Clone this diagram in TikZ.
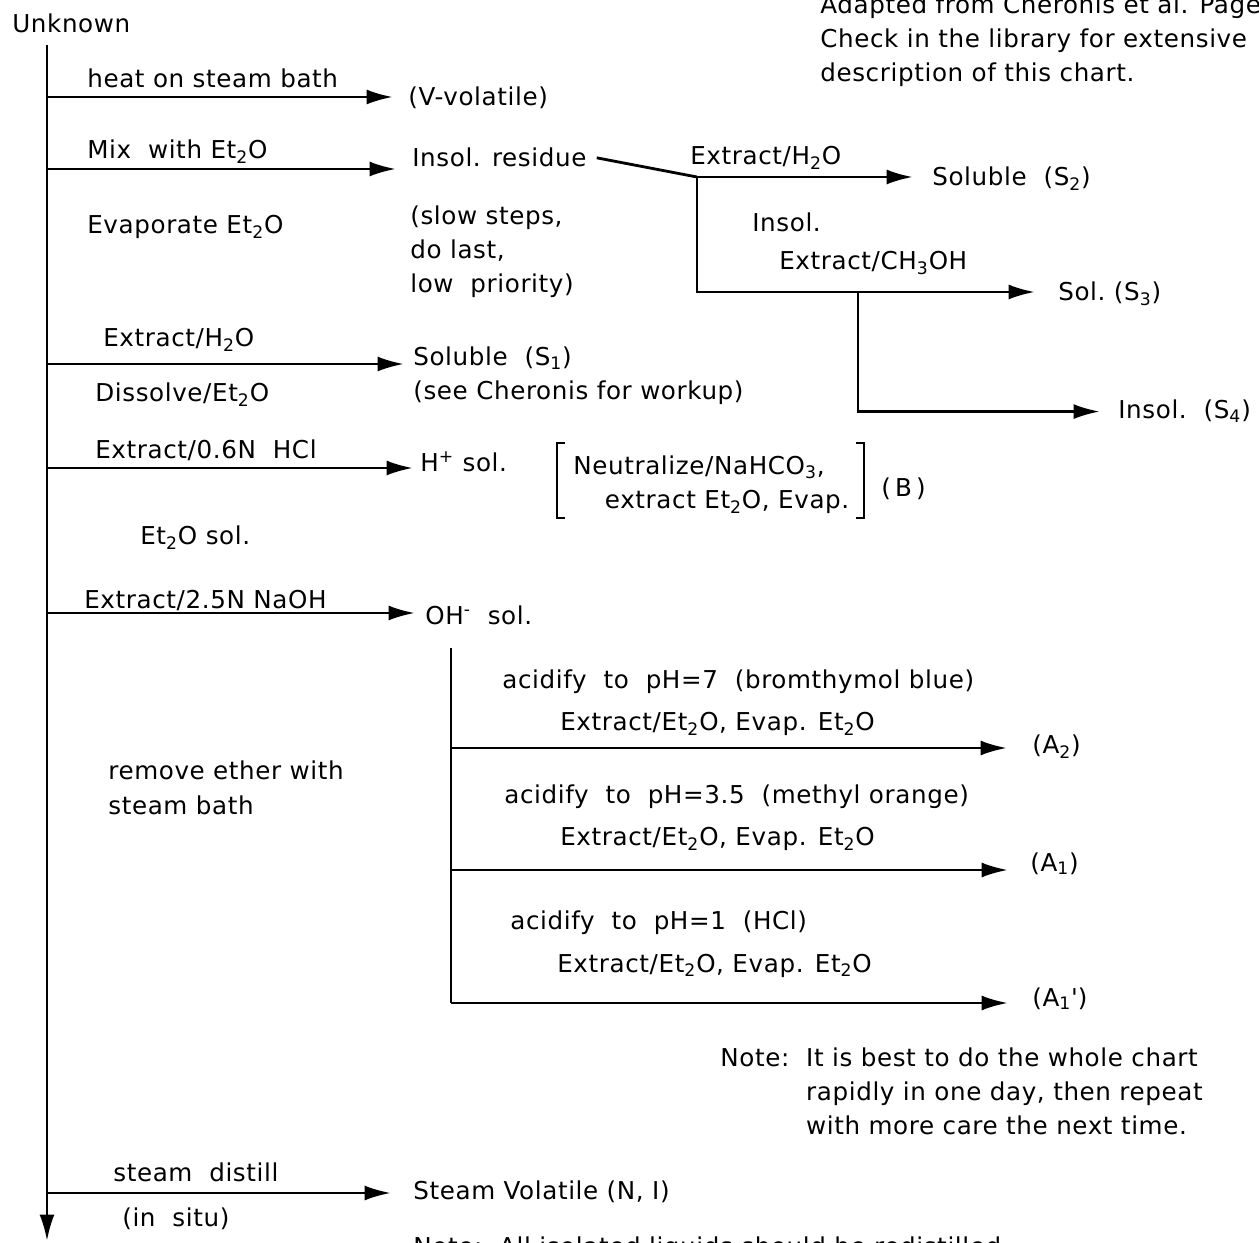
\documentclass[tikz,border=0pt]{standalone}
\usepackage{fontspec}
\setmainfont[LetterSpace=2.5]{DejaVu Sans}
\usetikzlibrary{arrows.meta}
\tikzset{
  flow/.style={line width=1.6pt},
  arr/.style={flow,-{Latex[length=15pt,width=8.5pt]}},
  txt/.style={anchor=base west,inner sep=0pt},
}
\newcommand{\chsub}[1]{\textsubscript{#1}}
\begin{document}
\begin{tikzpicture}[x=0.02cm,y=-0.02cm,font=\fontsize{14}{19.5}\selectfont]
\clip (0,0) rectangle (1259,1243);

% main line
\node[txt] (unk) at (12,33) {Unknown};
\coordinate (top) at (47,45);
\coordinate (bot) at (47,1241);
\draw[arr] (top) -- (bot);

% heat
\coordinate (b1) at (47,97);
\node[txt] (l1) at (87,88) {heat on steam bath};
\node[txt] (vvol) at (408,106) {(V-volatile)};
\draw[arr,shorten >=0.3cm] (b1) -- (b1 -| vvol.west);

% ether
\coordinate (b2) at (47,169);
\node[txt] (l2) at (87,159) {Mix\ \ with Et\chsub{2}O};
\node[txt] (res) at (412,167) {Insol. residue};
\draw[arr,shorten >=0.32cm] (b2) -- (b2 -| res.west);
\node[txt] (l2b) at (87,234) {Evaporate Et\chsub{2}O};
\node[txt,align=left] (slow) at (410,293) {(slow steps,\\do last,\\low\ \ priority)};

% residue
\coordinate (j1) at (697,177);
\coordinate (j2) at (858,292);
\draw[flow] ([xshift=0.2cm]res.east) -- (j1);
\node[txt] (l6) at (690,165) {Extract/H\chsub{2}O};
\node[txt] (s2) at (932,186) {Soluble\ \ (S\chsub{2})};
\draw[arr,shorten >=0.38cm] (j1) -- (j1 -| s2.west);
\node[txt] (l7) at (752,232) {Insol.};
\node[txt] (l8) at (779,270) {Extract/CH\chsub{3}OH};
\node[txt] (s3) at (1058,301) {Sol.\ (S\chsub{3})};
\draw[arr,shorten >=0.46cm] (j1) |- (s3.west |- j2);
\node[txt] (s4) at (1118,419) {Insol.\ \ (S\chsub{4})};
\draw[arr,shorten >=0.36cm] (j2) |- (s4.west);

% water
\coordinate (b3) at (47,364);
\node[txt] (l3) at (103,347) {Extract/H\chsub{2}O};
\node[txt] (l3b) at (95,402) {Dissolve/Et\chsub{2}O};
\node[txt,align=left] (s1) at (413,400) {Soluble\ \ (S\chsub{1})\\(see Cheronis for workup)};
\draw[arr,shorten >=0.18cm] (b3) -- (b3 -| s1.west);

% HCl
\coordinate (b4) at (47,468);
\node[txt] (l4) at (95,459) {Extract/0.6N\ \ HCl};
\node[txt] (hsol) at (420,472) {H\textsuperscript{+} sol.};
\draw[arr,shorten >=0.14cm] (b4) -- (b4 -| hsol.west);
\node[txt,align=left] (neut) at (573,509) {Neutralize/NaHCO\chsub{3},\\\hspace*{18pt}extract Et\chsub{2}O, Evap.};
\draw[flow] (565,443) -- (557,443) -- (557,518) -- (565,518);
\draw[flow] (856,443) -- (864,443) -- (864,518) -- (856,518);
\node[txt] (bsol) at (881,497) {(\,B\,)};
\node[txt] (l4b) at (140,545) {Et\chsub{2}O sol.};

% NaOH
\coordinate (b5) at (47,613);
\node[txt] (l5) at (84,609) {Extract/2.5N NaOH};
\node[txt] (ohsol) at (425,625) {OH\textsuperscript{-}\ \ sol.};
\draw[arr,shorten >=0.2cm] (b5) -- (b5 -| ohsol.west);

% acidify
\coordinate (c0) at (451,648);
\coordinate (c1) at (451,748);
\coordinate (c2) at (451,870);
\coordinate (c3) at (451,1003);
\draw[flow] (c0) -- (c3);
\node[txt] (ac1) at (502,689) {acidify\ \ to\ \ pH=7\ \ (bromthymol blue)};
\node[txt] (ex1) at (560,731) {Extract/Et\chsub{2}O, Evap. Et\chsub{2}O};
\node[txt] (a2) at (1032,754) {(A\chsub{2})};
\draw[arr,shorten >=0.5cm] (c1) -- (c1 -| a2.west);
\node[txt] (ac2) at (504,804) {acidify\ \ to\ \ pH=3.5\ \ (methyl orange)};
\node[txt] (ex2) at (560,846) {Extract/Et\chsub{2}O, Evap. Et\chsub{2}O};
\node[txt] (a1) at (1030,871) {(A\chsub{1})};
\draw[arr,shorten >=0.44cm] (c2) -- (c2 -| a1.west);
\node[txt] (ac3) at (510,929) {acidify\ \ to\ \ pH=1\ \ (HCl)};
\node[txt] (ex3) at (557,972) {Extract/Et\chsub{2}O, Evap. Et\chsub{2}O};
\node[txt] (a1p) at (1032,1006) {(A\chsub{1}\textquotesingle)};
\draw[arr,shorten >=0.48cm] (c3) -- (c3 -| a1p.west);
\node[txt,align=left] (l9) at (108,814) {remove ether with\\steam bath};

% note
\node[txt] (note) at (720,1066) {\begin{tabular}[t]{@{}l@{\ \ }l}Note: & It is best to do the whole chart\\ & rapidly in one day, then repeat\\ & with more care the next time.\end{tabular}};

% steam distill
\coordinate (b6) at (47,1193);
\node[txt] (l10) at (113,1181) {steam\ \ distill};
\node[txt] (l10b) at (122,1226) {(in\ \ situ)};
\node[txt] (svol) at (413,1199) {Steam Volatile (N, I)};
\draw[arr,shorten >=0.44cm] (b6) -- (b6 -| svol.west);
\node[txt] (note2) at (413,1255) {Note:\ \ All isolated liquids should be redistilled};

% source
\node[txt,align=left] (src) at (820,82) {Adapted from Cheronis et al. Page\\Check in the library for extensive\\description of this chart.};
\end{tikzpicture}
\end{document}
